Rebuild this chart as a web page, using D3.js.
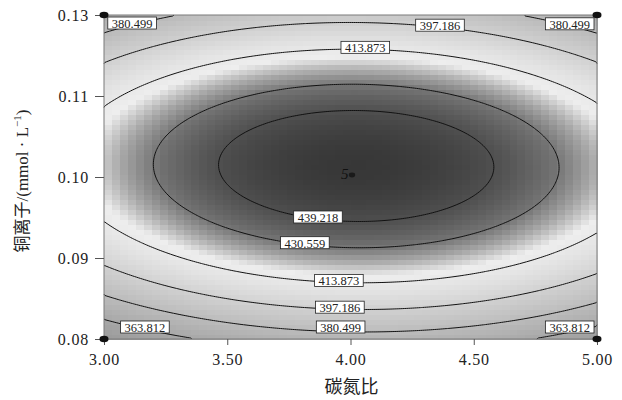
<!DOCTYPE html>
<html>
<head>
<meta charset="utf-8">
<script src="https://cdn.jsdelivr.net/npm/d3@7"></script>
<style>
  body { margin: 0; background: #fff; }
</style>
</head>
<body>
<div id="chart"></div>
<script>
// axis ticks (the top label reads 0.13 in the source figure)
var xTickValues = [3.00, 3.50, 4.00, 4.50, 5.00];
var xTickLabels = ["3.00", "3.50", "4.00", "4.50", "5.00"];
var yTickValues = [0.08, 0.09, 0.10, 0.11, 0.12];
var yTickLabels = ["0.08", "0.09", "0.10", "0.11", "0.13"];

// quadratic response model in coded units: b0, b1(x), b2(y), b12, b11, b22
var coef = [446.3, 1.2, 8.6, -1.5, -23.7, -63.0];

// contour levels
var levels = [363.812, 380.499, 397.186, 413.873, 430.559, 439.218];

// contour labels: level, x position, which side of the ridge
var labelLevels = [380.499, 397.186, 380.499, 413.873, 439.218, 430.559, 413.873, 397.186, 380.499, 363.812, 363.812];
var labelX      = [3.114,   4.363,   4.89,    4.06,    3.868,   3.815,   3.953,   3.957,   3.96,    3.166,   4.89];
var labelSide   = ["top", "top", "top", "top", "bottom", "bottom", "bottom", "bottom", "bottom", "bottom", "bottom"];

// design points
var pointX = [3, 5, 3, 5];
var pointY = [0.08, 0.08, 0.12, 0.12];
var centerPoint = [4.00, 0.10];
var centerCount = "5";

function response(xv, yv) {
  var u = xv - 4, v = (yv - 0.10) / 0.02;
  return coef[0] + coef[1] * u + coef[2] * v + coef[3] * u * v + coef[4] * u * u + coef[5] * v * v;
}

var W = 622, H = 400;
var margin = {top: 15, right: 25, bottom: 61, left: 104};
var width = W - margin.left - margin.right,
    height = H - margin.top - margin.bottom;

var x = d3.scaleLinear().domain([3, 5]).range([0, width]);
var y = d3.scaleLinear().domain([0.08, 0.12]).range([height, 0]);

// grayscale version of the response colour map
var gray = d3.scaleLinear()
  .domain([345, 365, 380, 397, 410, 418, 425, 431, 439, 447])
  .range([150, 168, 186, 208, 228, 238, 168, 116, 80, 54])
  .clamp(true);

var svg = d3.select("#chart").append("svg")
  .attr("width", W)
  .attr("height", H);

var main = svg.append("g")
  .attr("transform", "translate(" + margin.left + "," + margin.top + ")");

// shaded surface, drawn as a grid of cells
var nx = 62, ny = 65;
var cells = [];
for (var j = 0; j < ny; j++) {
  for (var i = 0; i < nx; i++) {
    var cx = 3 + (i + 0.5) / nx * 2;
    var cy = 0.08 + (j + 0.5) / ny * 0.04;
    cells.push({i: i, j: j, v: response(cx, cy)});
  }
}
var cw = width / nx, ch = height / ny;
main.append("g")
  .attr("shape-rendering", "crispEdges")
  .selectAll("rect")
  .data(cells)
  .enter().append("rect")
    .attr("x", function(d) { return x(3 + d.i / nx * 2); })
    .attr("y", function(d) { return y(0.08 + (d.j + 1) / ny * 0.04); })
    .attr("width", cw + 0.6)
    .attr("height", ch + 0.6)
    .attr("fill", function(d) { var g = Math.round(gray(d.v)); return "rgb(" + g + "," + g + "," + g + ")"; });

// contour lines
var n = 250, m = 170;
var grid = new Array(n * m);
for (var j = 0; j < m; j++) {
  for (var i = 0; i < n; i++) {
    grid[i + j * n] = response(3 + (i + 0.5) / n * 2, 0.08 + (j + 0.5) / m * 0.04);
  }
}
var contours = d3.contours().size([n, m]).thresholds(levels)(grid);

function onSameEdge(p, q) {
  return (p[0] === 0 && q[0] === 0) || (p[0] === n && q[0] === n) ||
         (p[1] === 0 && q[1] === 0) || (p[1] === m && q[1] === m);
}
function px(p) { return x(3 + p[0] / n * 2); }
function py(p) { return y(0.08 + p[1] / m * 0.04); }

contours.forEach(function(c) {
  var d = "";
  c.coordinates.forEach(function(poly) {
    poly.forEach(function(ring) {
      var pen = false;
      for (var k = 0; k < ring.length; k++) {
        var p = ring[k];
        if (k > 0 && pen && !onSameEdge(ring[k - 1], p)) {
          d += "L" + px(p).toFixed(2) + "," + py(p).toFixed(2);
        } else {
          d += "M" + px(p).toFixed(2) + "," + py(p).toFixed(2);
        }
        pen = true;
      }
    });
  });
  main.append("path")
    .attr("d", d)
    .attr("fill", "none")
    .attr("stroke", "#111")
    .attr("stroke-width", 1);
});

// plot border
main.append("rect")
  .attr("width", width)
  .attr("height", height)
  .attr("fill", "none")
  .attr("stroke", "#7a7a7a");

// find the y where the model equals a level, above or below the ridge
function solveY(xv, level, side) {
  var u = xv - 4;
  var vStar = -(coef[2] + coef[3] * u) / (2 * coef[5]);
  var lo = 0.10 + vStar * 0.02;
  var hi = side === "top" ? 0.12 : 0.08;
  for (var k = 0; k < 60; k++) {
    var mid = (lo + hi) / 2;
    if (response(xv, mid) > level) lo = mid; else hi = mid;
  }
  return (lo + hi) / 2;
}

// contour labels
var labels = main.append("g")
  .attr("font-family", "'Liberation Serif', 'Times New Roman', serif")
  .attr("font-size", 12.5);

labelLevels.forEach(function(lv, k) {
  var lx = x(labelX[k]);
  var ly = y(solveY(labelX[k], lv, labelSide[k]));
  var g = labels.append("g");
  var rect = g.append("rect")
    .attr("fill", "#fff")
    .attr("stroke", "#222")
    .attr("stroke-width", 0.8);
  var t = g.append("text")
    .attr("text-anchor", "middle")
    .attr("dy", "0.35em")
    .attr("fill", "#222")
    .text(lv.toFixed(3));
  var tw = t.node().getComputedTextLength();
  var bw = tw + 8, bh = 12;
  // keep the box inside the plot, sitting a little above the line
  var bx = Math.max(3, Math.min(width - bw - 3, lx - bw / 2));
  var by = Math.max(2, Math.min(height - bh - 6, ly - bh / 2 - 2));
  rect.attr("x", bx).attr("y", by).attr("width", bw).attr("height", bh);
  t.attr("x", bx + bw / 2).attr("y", by + bh / 2 + 0.5);
});

// axes
var xAxis = d3.axisBottom(x)
  .tickValues(xTickValues)
  .tickFormat(function(d, i) { return xTickLabels[i]; })
  .tickSize(6)
  .tickPadding(9);
var yAxis = d3.axisLeft(y)
  .tickValues(yTickValues)
  .tickFormat(function(d, i) { return yTickLabels[i]; })
  .tickSize(9)
  .tickPadding(6);

var gx = main.append("g")
  .attr("transform", "translate(0," + height + ")")
  .call(xAxis);
var gy = main.append("g").call(yAxis);

[gx, gy].forEach(function(g) {
  g.select(".domain").remove();
  g.selectAll("line").attr("stroke", "#555");
  g.selectAll("text")
    .attr("font-family", "'Liberation Serif', 'Times New Roman', serif")
    .attr("font-size", 16)
    .attr("letter-spacing", 0.8)
    .attr("fill", "#222");
});

// design points at the corners
main.selectAll(".pt")
  .data(pointX)
  .enter().append("ellipse")
    .attr("class", "pt")
    .attr("cx", function(d, i) { return x(d); })
    .attr("cy", function(d, i) { return y(pointY[i]); })
    .attr("rx", 4.5)
    .attr("ry", 3.2)
    .attr("fill", "#111");

// centre point with replicate count
main.append("ellipse")
  .attr("cx", x(centerPoint[0]) + 1.5)
  .attr("cy", y(centerPoint[1]) - 2)
  .attr("rx", 3.2)
  .attr("ry", 2.4)
  .attr("fill", "#1a1a1a");
main.append("text")
  .attr("x", x(centerPoint[0]) - 2)
  .attr("y", y(centerPoint[1]) + 2)
  .attr("text-anchor", "end")
  .attr("font-family", "'Liberation Serif', serif")
  .attr("font-style", "italic")
  .attr("font-size", 15)
  .attr("fill", "#111")
  .text(centerCount);

// x-axis title
svg.append("text")
  .attr("x", margin.left + width / 2 + 1)
  .attr("y", 393)
  .attr("text-anchor", "middle")
  .attr("font-family", "'Noto Sans CJK SC', sans-serif")
  .attr("font-size", 18)
  .attr("fill", "#222")
  .text("碳氮比");

// y-axis title
var yt = svg.append("text")
  .attr("transform", "translate(28," + (margin.top + height / 2 + 4) + ")rotate(-90)")
  .attr("text-anchor", "middle")
  .attr("fill", "#222");
yt.append("tspan")
  .attr("font-family", "'Noto Sans CJK SC', sans-serif")
  .attr("font-size", 17)
  .text("铜离子");
yt.append("tspan")
  .attr("font-family", "'Liberation Serif', serif")
  .attr("font-size", 17)
  .text("/(mmol · L");
yt.append("tspan")
  .attr("font-family", "'Liberation Serif', serif")
  .attr("font-size", 11)
  .attr("dy", -7)
  .text("−1");
yt.append("tspan")
  .attr("font-family", "'Liberation Serif', serif")
  .attr("font-size", 17)
  .attr("dy", 7)
  .text(")");
</script>
</body>
</html>
